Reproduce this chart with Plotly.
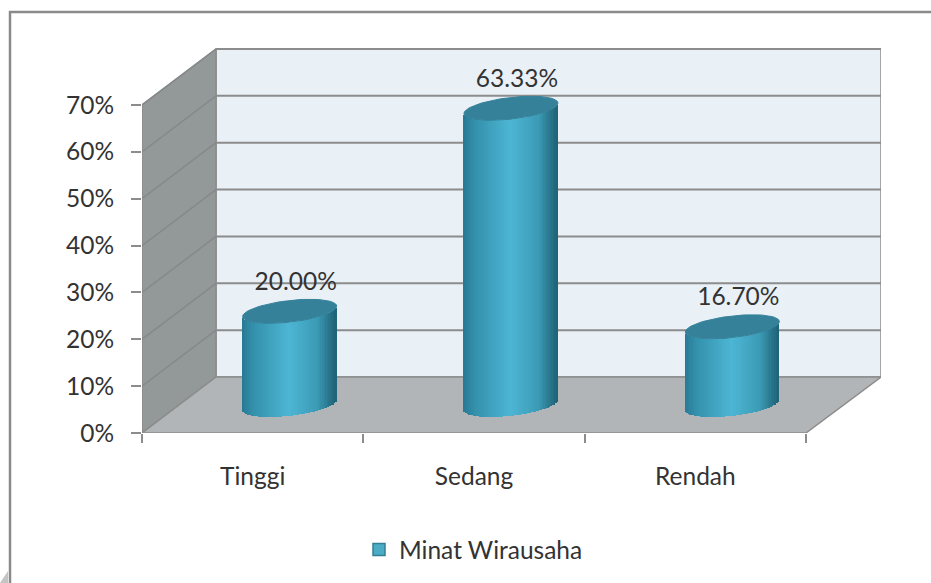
import numpy as np
import plotly.graph_objects as go

categories = ["Tinggi", "Sedang", "Rendah"]
values = [20.00, 63.33, 16.70]
labels = ["20.00%", "63.33%", "16.70%"]
y_ticks = [0, 10, 20, 30, 40, 50, 60, 70]
y_tick_labels = ["0%", "10%", "20%", "30%", "40%", "50%", "60%", "70%"]
series_name = "Minat Wirausaha"

W, H = 931, 583
L, R, T, B = 142, 881, 48, 433          # plot box in px
PX_X = (806 - 142) / 3                  # px per category
PX_Y = (433 - 105) / 70                 # px per percent
DX = 74 / PX_X                          # depth in x units
DY = 56 / PX_Y                          # depth in y units
x_max = (R - L) / PX_X
y_max = (B - T) / PX_Y

GRID = "#8C8C8C"
WALL = "#E9F0F6"
SIDE = "#939899"
FLOOR = "#B1B5B8"
TOP = "#35819A"
TEXT = "#333333"
FONT = "Lato"
FONT_SIZE = 24.5

fig = go.Figure()

def px_x(p):
    return (p - L) / (R - L)

def px_y(p):
    return (B - p) / (B - T)

def poly(xs, ys, color):
    return dict(type="path", xref="x", yref="y", layer="below",
                path="M" + "L".join(f"{a},{b}" for a, b in zip(xs, ys)) + "Z",
                fillcolor=color, line=dict(color=GRID, width=1.5))

shapes = [
    poly([DX, x_max, x_max, DX], [DY, DY, 70 + DY, 70 + DY], WALL),
    poly([0, DX, DX, 0], [0, DY, 70 + DY, 70], SIDE),
    poly([0, DX, x_max, 3], [0, DY, DY, 0], FLOOR),
]
for t in y_ticks[1:]:
    shapes.append(dict(type="line", xref="x", yref="y", layer="below", x0=0, y0=t, x1=DX, y1=t + DY,
                       line=dict(color="#85898A", width=1.5)))
    shapes.append(dict(type="line", xref="x", yref="y", layer="below", x0=DX, y0=t + DY, x1=x_max, y1=t + DY,
                       line=dict(color=GRID, width=2)))
# outer chart frame and the small corner fold (paper coordinates are relative to the plot box)
shapes.append(dict(type="path", xref="paper", yref="paper", layer="below",
                   path=f"M{px_x(10)},{px_y(583)} L{px_x(10)},{px_y(12)} L{px_x(931)},{px_y(12)}",
                   line=dict(color="#8A8A8A", width=2.5)))
shapes.append(dict(type="path", xref="paper", yref="paper", layer="below",
                   path=f"M{px_x(0)},{px_y(583)} L{px_x(8)},{px_y(571)} L{px_x(8)},{px_y(583)} Z",
                   fillcolor="#C4C4C4", line_width=0))

# cylinder bodies: vertical strips with a horizontal shading ramp
A = 47 / PX_X      # half width
Bm = 10.8 / PX_Y   # ellipse half height
K = 5.2 / PX_Y     # tilt of ellipse
N = 60
stops = [(0, (40, 122, 148)), (0.12, (52, 145, 172)), (0.5, (77, 182, 212)),
         (0.8, (60, 155, 182)), (0.93, (40, 116, 138)), (1, (30, 98, 118))]
u = (np.arange(N) + 0.5) / N
ramp = [
    "rgb(%d,%d,%d)" % tuple(np.interp(v, [s[0] for s in stops], [s[1][c] for s in stops]) for c in range(3))
    for v in u
]
sx, sb, sy, sc = [], [], [], []
mid_x = DX / 2
mid_y = DY / 2
for i, v in enumerate(values):
    cx = i + 0.5 + mid_x
    for j in range(N):
        c = 2 * u[j] - 1
        dy_edge = K * c - Bm * np.sqrt(1 - c * c)   # front arc of the ellipse
        sx.append(cx + A * c)
        sb.append(mid_y + dy_edge)
        sy.append(v)
        sc.append(ramp[j])
fig.add_trace(go.Bar(x=sx, y=sy, base=sb, width=2 * A / N * 1.15, marker=dict(color=sc, line_width=0),
                     showlegend=False, hoverinfo="skip"))

# top ellipses
t = np.linspace(0, 2 * np.pi, 80)
for i, v in enumerate(values):
    cx = i + 0.5 + mid_x
    fig.add_trace(go.Scatter(x=cx + A * np.cos(t), y=v + mid_y + K * np.cos(t) + Bm * np.sin(t),
                             mode="lines", fill="toself", fillcolor=TOP, line=dict(color=TOP, width=1),
                             showlegend=False, hoverinfo="skip"))

# data labels
fig.add_trace(go.Scatter(x=[i + 0.5 + mid_x + 6 / PX_X for i in range(3)],
                         y=[v + mid_y + 3.3 for v in values],
                         mode="text", text=labels, textposition="top center",
                         textfont=dict(family=FONT, size=FONT_SIZE, color=TEXT),
                         showlegend=False, hoverinfo="skip"))

# legend entry
fig.add_trace(go.Bar(x=[None], y=[None], name=series_name,
                     marker=dict(color="#4BACC6", line=dict(color="#357F96", width=1.5))))

fig.update_layout(
    width=W, height=H, autosize=False, barmode="overlay", bargap=0,
    margin=dict(l=L, r=W - R, t=T, b=H - B),
    paper_bgcolor="white", plot_bgcolor="white",
    shapes=shapes,
    font=dict(family=FONT, size=FONT_SIZE, color=TEXT),
    showlegend=True,
    legend=dict(orientation="h", x=px_x(359), xanchor="left", y=(H - 527) / H,
                yref="container", yanchor="top", font=dict(family=FONT, size=FONT_SIZE, color=TEXT),
                bgcolor="rgba(0,0,0,0)"),
    xaxis=dict(range=[0, x_max], tickmode="array", tickvals=[0.5, 1.5, 2.5], ticktext=categories,
               ticks="", ticklabelstandoff=26, showgrid=False, zeroline=False, showline=False,
               minor=dict(tickmode="array", tickvals=[0, 1, 2, 3], ticks="outside", ticklen=9,
                          tickwidth=2, tickcolor=GRID, showgrid=False)),
    yaxis=dict(range=[0, y_max], tickmode="array", tickvals=y_ticks, ticktext=y_tick_labels,
               ticks="outside", ticklen=10, tickwidth=2, tickcolor=GRID, showgrid=False,
               ticklabelstandoff=12, zeroline=False, showline=False),
)
fig.write_html("out.html", config={"displayModeBar": False},
               post_script="document.body.style.margin='0';document.body.style.overflow='hidden';")
